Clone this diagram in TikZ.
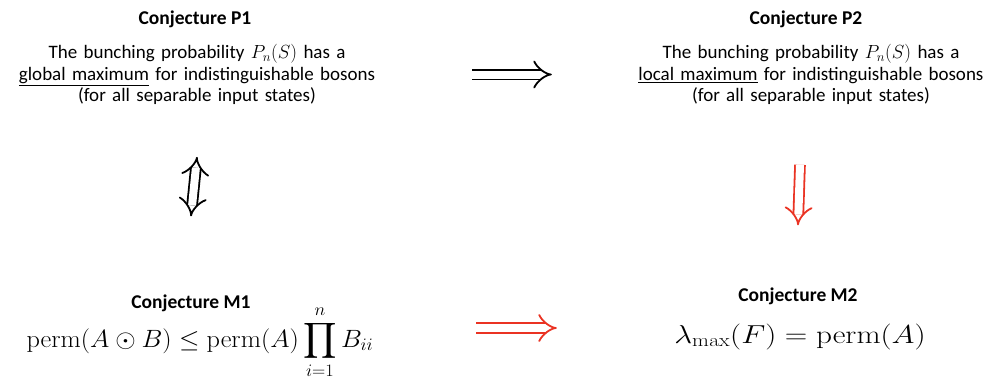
\RequirePackage{fix-cm}
\documentclass[tikz,border=0pt]{standalone}
\usepackage{amsmath}
\usepackage{graphicx}
\usepackage[no-math]{fontspec}
\setmainfont{Carlito}
\usetikzlibrary{arrows.meta}
\definecolor{implred}{RGB}{234,51,35}

\tikzset{
  conjtitle/.style={font=\fontsize{19.5}{23}\selectfont\bfseries,inner sep=0pt},
  conjtext/.style={font=\fontsize{19}{21.5}\selectfont,align=center,text width=380pt,inner sep=0pt},
  conjmath/.style={font=\fontsize{25}{29}\selectfont,anchor=base,inner sep=0pt},
  implies/.style={double,double distance=8pt,line width=1.8pt,-{Implies[scale=1.3]}},
  iff/.style={double,double distance=8pt,line width=1.8pt,{Implies[scale=1.3]}-{Implies[scale=1.3]}}
}

\begin{document}
\begin{tikzpicture}[x=1pt,y=-1pt]
\useasboundingbox (0,0) rectangle (989,378);
\node[conjtitle] (p1t) at (195,19) {Conjecture P1};
\node[conjtext] (p1) at (197,74.5) {The bunching probability $P_n(S)$ has a\\ \underline{global maximum} for indistinguishable bosons\\ (for all separable input states)};
\node[conjtitle] (p2t) at (806,19) {Conjecture P2};
\node[conjtext] (p2) at (811,74.5) {The bunching probability $P_n(S)$ has a\\ \underline{local maximum} for indistinguishable bosons\\ (for all separable input states)};
\node[conjtitle] (m1t) at (191,303) {Conjecture M1};
\node[conjmath,minimum width=380pt] (m1) at (200,347) {\scalebox{1.05}[1]{$\displaystyle \mathrm{perm}(A\odot B)\leq\mathrm{perm}(A)\prod_{i=1}^{n}B_{ii}$}};
\node[conjtitle] (m2t) at (798,296) {Conjecture M2};
\node[conjmath,font=\fontsize{26}{30}\selectfont,minimum width=260pt] (m2) at (800,343) {\scalebox{1.2}[1]{$\lambda_{\max}(F)=\mathrm{perm}(A)$}};

\draw[implies] ([xshift=85pt]p1.east) -- ([xshift=-69pt]p2.west);
\draw[iff] ([yshift=-52pt]p1.south) -- ([yshift=78pt]m1t.north);
\draw[implies,implred] ([yshift=-60pt]p2.south -| m2.north) -- ([yshift=62pt]m2t.north);
\draw[implies,implred] ([xshift=86pt,yshift=19pt]m1.base east) -- ([xshift=-113pt,yshift=15pt]m2.base west);
\end{tikzpicture}
\end{document}
